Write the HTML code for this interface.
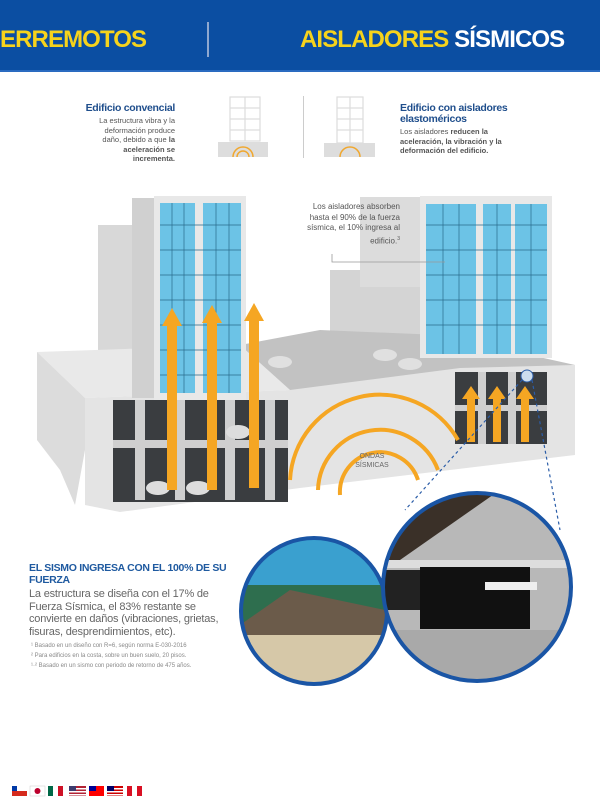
<!DOCTYPE html>
<html><head><meta charset="utf-8"><style>
body{margin:0;width:600px;height:809px;background:#fff;overflow:hidden;font-family:"Liberation Sans",sans-serif;position:relative}
.h{position:absolute;left:0;top:0;width:600px;height:70px;background:#0b4ea2;border-bottom:2px solid #2a6bc0}
.t{position:absolute;font-weight:bold;font-size:24px;letter-spacing:-0.9px;top:26px;white-space:nowrap}
.s{position:absolute;font-size:7.5px;color:#555;line-height:9.5px}
.b{position:absolute;font-size:10.5px;color:#1f4e8c;font-weight:bold;line-height:11px;letter-spacing:-0.3px}
</style></head><body>
<div class="h"></div>
<div class="t" style="left:0;color:#f6d31c">ERREMOTOS</div>
<div style="position:absolute;left:207px;top:22px;width:2px;height:35px;background:#8fa8d0"></div>
<div class="t" style="left:300px;color:#f6d31c">AISLADORES <span style="color:#fff">SÍSMICOS</span></div>

<div class="b" style="left:55px;top:103px;width:120px;text-align:right">Edificio convencial</div>
<div class="s" style="left:85px;top:116px;width:90px;text-align:right">La estructura vibra y la deformación produce daño, debido a que <b>la aceleración se incrementa.</b></div>
<div class="b" style="left:400px;top:103px;width:120px">Edificio con aisladores elastoméricos</div>
<div class="s" style="left:400px;top:127px;width:110px">Los aisladores <b>reducen la aceleración, la vibración y la deformación del edificio.</b></div>
<div style="position:absolute;left:303px;top:96px;width:1px;height:62px;background:#ccc"></div>

<svg width="600" height="809" style="position:absolute;left:0;top:0">
<g fill="none" stroke="#ddd" stroke-width="1.2">
<rect x="230" y="97" width="30" height="44"/><line x1="245" y1="97" x2="245" y2="141"/>
<line x1="230" y1="108" x2="260" y2="108"/><line x1="230" y1="119" x2="260" y2="119"/><line x1="230" y1="130" x2="260" y2="130"/>
<rect x="337" y="97" width="26" height="46"/><line x1="350" y1="97" x2="350" y2="143"/>
<line x1="337" y1="108" x2="363" y2="108"/><line x1="337" y1="119" x2="363" y2="119"/><line x1="337" y1="130" x2="363" y2="130"/>
</g>
<rect x="218" y="142" width="50" height="15" fill="#ddd"/>
<rect x="324" y="143" width="51" height="14" fill="#ddd"/>
<path d="M233 157a10 10 0 0 1 20 0M237 157a6 6 0 0 1 12 0" stroke="#f0a830" fill="none" stroke-width="1.5"/>
<path d="M340 157a10 10 0 0 1 20 0" stroke="#f0a830" fill="none" stroke-width="1.5"/>

<rect x="98" y="225" width="40" height="130" fill="#d8d8d8"/>
<rect x="330" y="270" width="100" height="90" fill="#d4d4d4"/>
<rect x="360" y="197" width="70" height="90" fill="#dcdcdc"/>
<polygon points="37,352 240,345 290,390 85,398" fill="#e9e9e9"/>
<polygon points="240,345 290,390 360,390 575,365 440,335 320,330" fill="#c2c2c2"/>
<polygon points="37,352 85,398 85,450 75,505 60,470 37,440" fill="#dcdcdc"/>
<polygon points="85,398 290,390 460,368 575,365 575,455 450,470 300,488 120,512 85,505" fill="#e4e4e4"/>
<rect x="113" y="400" width="175" height="102" fill="#3a3d40"/>
<g fill="#cfcfcf"><rect x="113" y="440" width="175" height="8"/><rect x="135" y="400" width="10" height="100"/><rect x="175" y="400" width="10" height="100"/><rect x="225" y="400" width="10" height="100"/><rect x="265" y="400" width="10" height="100"/></g>
<g fill="#ddd"><ellipse cx="158" cy="488" rx="12" ry="7"/><ellipse cx="198" cy="488" rx="12" ry="7"/><ellipse cx="238" cy="432" rx="12" ry="7"/></g>
<rect x="455" y="372" width="92" height="72" fill="#3a3d40"/>
<g fill="#cfcfcf"><rect x="455" y="405" width="92" height="6"/><rect x="478" y="372" width="8" height="72"/><rect x="508" y="372" width="8" height="72"/></g>
<g fill="none" stroke="#f5a623" stroke-width="4">
<path d="M290 480a90 90 0 0 1 168 -40"/><path d="M318 490a62 62 0 0 1 120 -20"/><path d="M340 495a40 40 0 0 1 78 -15"/>
</g>
<text x="372" y="458" font-size="7" fill="#666" text-anchor="middle">ONDAS</text>
<text x="372" y="467" font-size="7" fill="#666" text-anchor="middle">SÍSMICAS</text>
<rect x="132" y="198" width="22" height="200" fill="#d0d0d0"/>
<rect x="154" y="196" width="92" height="204" fill="#e8e8e8"/>
<rect x="160" y="203" width="35" height="190" fill="#6cc3e6"/>
<rect x="203" y="203" width="38" height="190" fill="#6cc3e6"/>
<g stroke="#2a6a8a" stroke-width="0.7">
<line x1="160" y1="225" x2="241" y2="225"/><line x1="160" y1="250" x2="241" y2="250"/><line x1="160" y1="275" x2="241" y2="275"/><line x1="160" y1="300" x2="241" y2="300"/><line x1="160" y1="325" x2="241" y2="325"/><line x1="160" y1="350" x2="241" y2="350"/><line x1="160" y1="375" x2="241" y2="375"/>
<line x1="172" y1="203" x2="172" y2="393"/><line x1="184" y1="203" x2="184" y2="393"/><line x1="216" y1="203" x2="216" y2="393"/><line x1="229" y1="203" x2="229" y2="393"/>
</g>
<rect x="420" y="196" width="132" height="162" fill="#e8e8e8"/>
<rect x="426" y="204" width="50" height="150" fill="#6cc3e6"/>
<rect x="483" y="204" width="28" height="150" fill="#6cc3e6"/>
<rect x="515" y="204" width="32" height="150" fill="#6cc3e6"/>
<g stroke="#2a6a8a" stroke-width="0.7">
<line x1="426" y1="225" x2="547" y2="225"/><line x1="426" y1="250" x2="547" y2="250"/><line x1="426" y1="275" x2="547" y2="275"/><line x1="426" y1="300" x2="547" y2="300"/><line x1="426" y1="325" x2="547" y2="325"/>
<line x1="443" y1="204" x2="443" y2="354"/><line x1="459" y1="204" x2="459" y2="354"/><line x1="497" y1="204" x2="497" y2="354"/><line x1="531" y1="204" x2="531" y2="354"/>
</g>
<g fill="#e0e0e0"><ellipse cx="280" cy="362" rx="12" ry="6"/><ellipse cx="385" cy="355" rx="12" ry="6"/><ellipse cx="410" cy="364" rx="12" ry="6"/></g>
<g fill="#f5a623">
<rect x="167" y="325" width="10" height="165"/><polygon points="162,326 172,308 182,326"/>
<rect x="207" y="322" width="10" height="168"/><polygon points="202,323 212,305 222,323"/>
<rect x="249" y="320" width="10" height="168"/><polygon points="244,321 254,303 264,321"/>
<rect x="467" y="398" width="8" height="44"/><polygon points="462,399 471,386 480,399"/>
<rect x="493" y="398" width="8" height="44"/><polygon points="488,399 497,386 506,399"/>
<rect x="521" y="398" width="8" height="44"/><polygon points="516,399 525,386 534,399"/>
</g>
<circle cx="527" cy="376" r="6" fill="#cde" stroke="#2b5da8"/>
<g stroke="#2b5da8" stroke-width="1.2" stroke-dasharray="3,3" fill="none">
<line x1="522" y1="380" x2="405" y2="510"/><line x1="532" y1="380" x2="560" y2="530"/>
</g>
<polyline points="332,254 332,262 445,262" fill="none" stroke="#999" stroke-width="0.8"/>
<clipPath id="c1"><circle cx="314" cy="611" r="73"/></clipPath>
<g clip-path="url(#c1)">
<rect x="240" y="535" width="150" height="60" fill="#3aa0cf"/>
<rect x="240" y="585" width="150" height="40" fill="#2e6e4e"/>
<polygon points="290,590 385,610 385,650 240,650 240,625" fill="#6b5b4a"/>
<rect x="240" y="635" width="150" height="55" fill="#d6c8a8"/>
</g>
<circle cx="314" cy="611" r="73" fill="none" stroke="#1a55a5" stroke-width="4"/>
<clipPath id="c2"><circle cx="477" cy="587" r="94"/></clipPath>
<g clip-path="url(#c2)">
<rect x="380" y="490" width="200" height="200" fill="#b8b8b8"/>
<polygon points="380,490 500,490 400,560 380,560" fill="#3a3028"/>
<rect x="385" y="560" width="190" height="8" fill="#ddd"/>
<rect x="420" y="567" width="110" height="62" fill="#111"/>
<rect x="385" y="570" width="35" height="40" fill="#222"/>
<rect x="485" y="582" width="52" height="8" fill="#eee"/>
<rect x="380" y="630" width="200" height="60" fill="#a9a9a9"/>
</g>
<circle cx="477" cy="587" r="94" fill="none" stroke="#1a55a5" stroke-width="4"/>
<g>
<rect x="12" y="786" width="15" height="10" fill="#fff"/><rect x="12" y="791" width="15" height="5" fill="#d52b1e"/><rect x="12" y="786" width="5" height="5" fill="#0039a6"/>
<rect x="30" y="786" width="15" height="10" fill="#fff" stroke="#ccc" stroke-width=".5"/><circle cx="37.5" cy="791" r="3" fill="#bc002d"/>
<rect x="48" y="786" width="5" height="10" fill="#006847"/><rect x="53" y="786" width="5" height="10" fill="#fff"/><rect x="58" y="786" width="5" height="10" fill="#ce1126"/>
<rect x="69" y="786" width="17" height="10" fill="#b22234"/><rect x="69" y="788" width="17" height="1.5" fill="#fff"/><rect x="69" y="791" width="17" height="1.5" fill="#fff"/><rect x="69" y="794" width="17" height="1.5" fill="#fff"/><rect x="69" y="786" width="7" height="5" fill="#3c3b6e"/>
<rect x="89" y="786" width="15" height="10" fill="#fe0000"/><rect x="89" y="786" width="7" height="5" fill="#000095"/>
<rect x="107" y="786" width="16" height="10" fill="#cc0001"/><rect x="107" y="788" width="16" height="1.5" fill="#fff"/><rect x="107" y="791" width="16" height="1.5" fill="#fff"/><rect x="107" y="794" width="16" height="1.5" fill="#fff"/><rect x="107" y="786" width="7" height="5" fill="#010066"/>
<rect x="127" y="786" width="5" height="10" fill="#d91023"/><rect x="132" y="786" width="5" height="10" fill="#fff"/><rect x="137" y="786" width="5" height="10" fill="#d91023"/>
</g>
</svg>

<div class="s" style="left:300px;top:202px;width:100px;text-align:right;font-size:8px;line-height:10.5px">Los aisladores absorben hasta el 90% de la fuerza sísmica, el 10% ingresa al edificio.<sup style="font-size:5px">3</sup></div>

<div style="position:absolute;left:29px;top:562px;width:200px;font-size:10.5px;font-weight:bold;color:#1f5aa0;line-height:12px;letter-spacing:-0.3px">EL SISMO INGRESA CON EL 100% DE SU FUERZA</div>
<div style="position:absolute;left:29px;top:588px;width:205px;font-size:11px;color:#666;line-height:12.5px;letter-spacing:-0.2px">La estructura se diseña con el 17% de Fuerza Sísmica, el 83% restante se convierte en daños (vibraciones, grietas, fisuras, desprendimientos, etc).</div>
<div style="position:absolute;left:31px;top:641px;width:220px;font-size:6px;color:#888;line-height:10px">¹ Basado en un diseño con R=6, según norma E-030-2016<br>² Para edificios en la costa, sobre un buen suelo, 20 pisos.<br>¹·² Basado en un sismo con periodo de retorno de 475 años.</div>
</body></html>
